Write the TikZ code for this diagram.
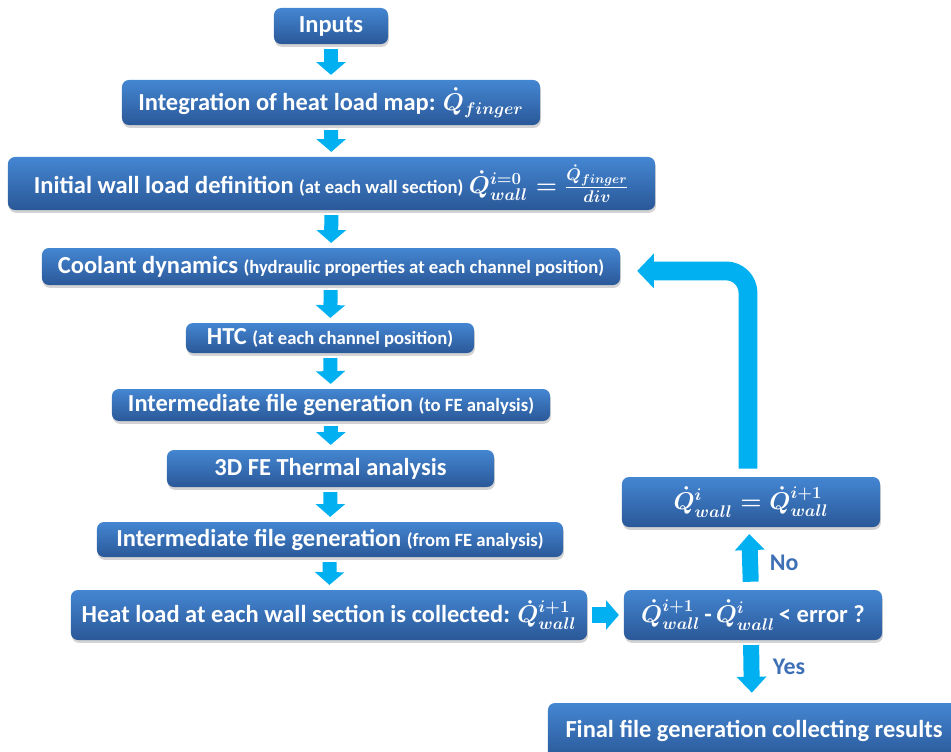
\documentclass[tikz,border=0pt]{standalone}
\usepackage{amsmath}
\usepackage{fontspec}
\setmainfont{Carlito}
\usetikzlibrary{arrows.meta,shadows}

\definecolor{boxtop}{RGB}{68,134,210}
\definecolor{boxbot}{RGB}{42,88,152}
\definecolor{flowc}{RGB}{0,176,240}
\definecolor{labc}{RGB}{62,112,182}

\newcommand{\smalltxt}[1]{{\fontsize{13.3}{15}\selectfont #1}}

\tikzset{
  stage/.style={rectangle, rounded corners=5pt, top color=boxtop, bottom color=boxbot,
    text=white, font=\fontsize{17.4}{19}\selectfont\bfseries\boldmath, inner sep=2pt,
    drop shadow={shadow xshift=0.6pt, shadow yshift=-2pt, opacity=0.35}},
  flow/.style={draw=flowc, line width=0.35cm, -{Triangle[width=0.72cm,length=0.32cm]},
    shorten <=0.12cm, shorten >=0.12cm},
  bigflow/.style={draw=flowc, line width=0.4cm, -{Triangle[width=0.72cm,length=0.4cm]}},
  loopflow/.style={draw=flowc, line width=0.47cm, -{Triangle[width=0.85cm,length=0.42cm]},
    rounded corners=0.55cm},
  lab/.style={text=labc, font=\fontsize{17}{19}\selectfont\bfseries, anchor=west}
}

\begin{document}
\begin{tikzpicture}[x=0.025cm, y=-0.025cm]
\useasboundingbox (0,0) rectangle (951,751);

% main chain
\node[stage, minimum width=2.85cm, minimum height=0.9cm] (inputs) at (331,26) {Inputs};
\node[stage, minimum width=10.45cm, minimum height=1.125cm] (integ) at (331,102.5)
  {Integration of heat load map: $\dot{Q}_{finger}$};
\node[stage, minimum width=16.175cm, minimum height=1.325cm] (init) at (331.5,183.5)
  {Initial wall load definition \smalltxt{(at each wall section)} $\dot{Q}^{i=0}_{wall}=\frac{\dot{Q}_{finger}}{div}$};
\node[stage, minimum width=14.45cm, minimum height=0.925cm] (coolant) at (331,266.5)
  {Coolant dynamics \smalltxt{(hydraulic properties at each channel position)}};
\node[stage, minimum width=7.2cm, minimum height=0.75cm] (htc) at (330,338)
  {HTC \smalltxt{(at each channel position)}};
\node[stage, minimum width=10.95cm, minimum height=0.8cm] (interto) at (331,405)
  {Intermediate file generation \smalltxt{(to FE analysis)}};
\node[stage, minimum width=8.175cm, minimum height=0.925cm] (fe) at (330.5,468.5)
  {3D FE Thermal analysis};
\node[stage, minimum width=11.65cm, minimum height=0.875cm] (interfrom) at (330,539.5)
  {Intermediate file generation \smalltxt{(from FE analysis)}};
\node[stage, minimum width=12.9cm, minimum height=1.25cm] (heat) at (329,615)
  {Heat load at each wall section is collected: $\dot{Q}^{i+1}_{wall}$};

% convergence check
\node[stage, minimum width=6.45cm, minimum height=1.25cm] (check) at (753,615)
  {$\dot{Q}^{i+1}_{wall}$\,-\,$\dot{Q}^{i}_{wall}$\,< error ?};
\node[stage, minimum width=6.45cm, minimum height=1.25cm] (upd) at (751,502)
  {$\dot{Q}^{i}_{wall}=\dot{Q}^{i+1}_{wall}$};
\node[stage, minimum width=10.3cm, minimum height=1.4cm] (final) at (754,731)
  {Final file generation collecting results};

% arrows
\draw[flow] (inputs) -- (integ);
\draw[flow] (integ) -- (init);
\draw[flow] (init) -- (coolant);
\draw[flow] (coolant) -- (htc);
\draw[flow] (htc) -- (interto);
\draw[flow] (interto) -- (fe);
\draw[flow] (fe) -- (interfrom);
\draw[flow] (interfrom) -- (heat);
\draw[flow, line width=0.38cm] (heat) -- (check);

\draw[bigflow, shorten <=0.2cm, shorten >=0.17cm] ([xshift=-0.05cm]check.north) -- ([xshift=-0.05cm]upd.south);
\node[lab] (no) at (765,563) {No};
\draw[bigflow, shorten <=0.12cm, shorten >=0.25cm] ([xshift=-0.05cm]check.south) -- ([xshift=-0.05cm]final.north);
\node[lab] (yes) at (768,667) {Yes};

% feedback loop
\draw[loopflow, shorten <=0.2cm, shorten >=0.42cm] ([xshift=-0.075cm]upd.north) |- ([yshift=-0.11cm]coolant.east);
\end{tikzpicture}
\end{document}
